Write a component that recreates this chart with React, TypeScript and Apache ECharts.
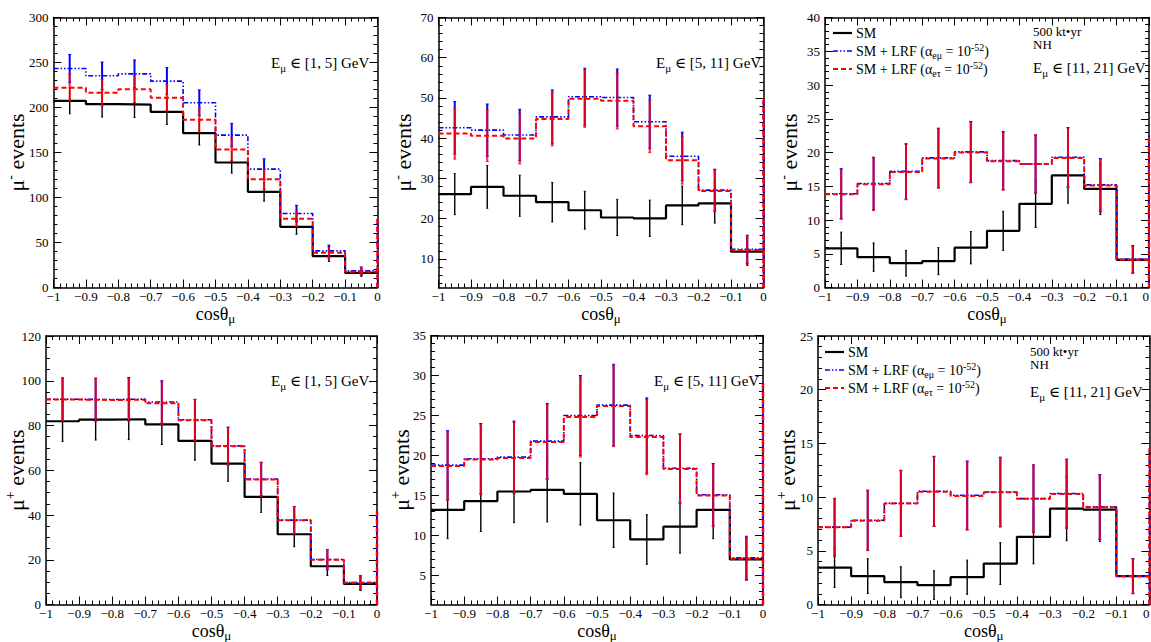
import React, { useEffect, useRef } from 'react';
import * as echarts from 'echarts';

const FONT = "'Liberation Serif', 'Times New Roman', 'DejaVu Serif', serif";

// ---- common binning ----
const BIN_EDGES = [-1, -0.9, -0.8, -0.7, -0.6, -0.5, -0.4, -0.3, -0.2, -0.1, 0];
const BIN_CENTERS = [-0.95, -0.85, -0.75, -0.65, -0.55, -0.45, -0.35, -0.25, -0.15, -0.05];
const X_TICKS = [-1, -0.9, -0.8, -0.7, -0.6, -0.5, -0.4, -0.3, -0.2, -0.1, 0];
const X_TICK_LABELS = ['−1', '−0.9', '−0.8', '−0.7', '−0.6', '−0.5', '−0.4', '−0.3', '−0.2', '−0.1', '0'];

// ---- panel 1: mu-, E in [1,5] ----
const P1_SM = [207.4, 203.7, 203.3, 195.2, 171.5, 138.9, 106.3, 67.4, 34.8, 16.3];
const P1_SM_ERR = [14.4, 14.3, 14.3, 14.0, 13.1, 11.8, 10.3, 8.2, 5.9, 4.0];
const P1_EMU = [243.3, 235.2, 237.4, 229.3, 205.2, 169.3, 131.5, 82.2, 40.7, 18.5];
const P1_EMU_ERR = [15.6, 15.3, 15.4, 15.1, 14.3, 13.0, 11.5, 9.1, 6.4, 4.3];
const P1_ETAU = [221.9, 216.3, 220.4, 210.7, 186.3, 153.3, 120.4, 76.3, 38.5, 17.4];
const P1_ETAU_ERR = [14.9, 14.7, 14.9, 14.5, 13.7, 12.4, 11.0, 8.7, 6.2, 4.2];
const P1_EDGE = 76;
const P1_Y_TICKS = [0, 50, 100, 150, 200, 250, 300];
const P1_Y_LABELS = ['0', '50', '100', '150', '200', '250', '300'];

// ---- panel 2: mu-, E in [5,11] ----
const P2_SM = [26.1, 27.9, 25.7, 24.1, 22.1, 20.3, 20.1, 23.3, 23.8, 11.8];
const P2_SM_ERR = [5.1, 5.3, 5.1, 4.9, 4.7, 4.5, 4.5, 4.8, 4.9, 3.4];
const P2_EMU = [42.6, 42.0, 40.8, 45.3, 50.3, 50.1, 44.1, 35.5, 27.1, 12.4];
const P2_EMU_ERR = [6.5, 6.5, 6.4, 6.7, 7.1, 7.1, 6.6, 6.0, 5.2, 3.5];
const P2_ETAU = [41.2, 40.6, 39.9, 44.8, 49.8, 49.3, 43.0, 34.5, 26.9, 12.2];
const P2_ETAU_ERR = [6.4, 6.4, 6.3, 6.7, 7.1, 7.0, 6.6, 5.9, 5.2, 3.5];
const P2_EDGE = 49.5;
const P2_Y_TICKS = [10, 20, 30, 40, 50, 60, 70];
const P2_Y_LABELS = ['10', '20', '30', '40', '50', '60', '70'];

// ---- panel 3: mu-, E in [11,21] ----
const P3_SM = [5.8, 4.5, 3.6, 3.9, 5.9, 8.4, 12.4, 16.6, 14.6, 4.1];
const P3_SM_ERR = [2.4, 2.1, 1.9, 2.0, 2.4, 2.9, 3.5, 4.1, 3.8, 2.0];
const P3_EMU = [13.9, 15.4, 17.2, 19.2, 20.1, 18.8, 18.3, 19.3, 15.2, 4.2];
const P3_EMU_ERR = [3.7, 3.9, 4.1, 4.4, 4.5, 4.3, 4.3, 4.4, 3.9, 2.0];
const P3_ETAU = [13.8, 15.3, 17.1, 19.1, 20.0, 18.7, 18.3, 19.2, 15.1, 4.1];
const P3_ETAU_ERR = [3.7, 3.9, 4.1, 4.4, 4.5, 4.3, 4.3, 4.4, 3.9, 2.0];
const P3_EDGE = 22.6;
const P3_Y_TICKS = [0, 5, 10, 15, 20, 25, 30, 35, 40];
const P3_Y_LABELS = ['0', '5', '10', '15', '20', '25', '30', '35', '40'];

// ---- panel 4: mu+, E in [1,5] ----
const P4_SM = [81.9, 82.6, 82.8, 80.5, 73.1, 63.0, 48.1, 31.4, 17.1, 9.2];
const P4_SM_ERR = [9.0, 9.1, 9.1, 9.0, 8.6, 7.9, 6.9, 5.6, 4.1, 3.0];
const P4_EMU = [91.7, 91.6, 91.8, 90.5, 82.6, 70.9, 56.1, 37.7, 20.1, 9.8];
const P4_EMU_ERR = [9.6, 9.6, 9.6, 9.5, 9.1, 8.4, 7.5, 6.1, 4.5, 3.1];
const P4_ETAU = [91.6, 91.4, 91.5, 89.9, 82.4, 70.7, 55.9, 37.6, 20.0, 9.7];
const P4_ETAU_ERR = [9.6, 9.6, 9.6, 9.5, 9.1, 8.4, 7.5, 6.1, 4.5, 3.1];
const P4_EDGE = 42;
const P4_Y_TICKS = [0, 20, 40, 60, 80, 100, 120];
const P4_Y_LABELS = ['0', '20', '40', '60', '80', '100', '120'];

// ---- panel 5: mu+, E in [5,11] ----
const P5_SM = [13.2, 14.3, 15.5, 15.7, 15.2, 11.9, 9.5, 11.1, 13.2, 7.0];
const P5_SM_ERR = [3.6, 3.8, 3.9, 4.0, 3.9, 3.4, 3.1, 3.3, 3.6, 2.6];
const P5_EMU = [18.8, 19.6, 19.8, 21.8, 25.0, 26.3, 22.5, 18.4, 15.1, 7.2];
const P5_EMU_ERR = [4.3, 4.4, 4.5, 4.7, 5.0, 5.1, 4.7, 4.3, 3.9, 2.7];
const P5_ETAU = [18.7, 19.5, 19.7, 21.7, 24.8, 26.2, 22.3, 18.3, 15.0, 7.1];
const P5_ETAU_ERR = [4.3, 4.4, 4.4, 4.7, 5.0, 5.1, 4.7, 4.3, 3.9, 2.7];
const P5_EDGE = 29.3;
const P5_Y_TICKS = [5, 10, 15, 20, 25, 30, 35];
const P5_Y_LABELS = ['5', '10', '15', '20', '25', '30', '35'];

// ---- panel 6: mu+, E in [11,21] ----
const P6_SM = [3.44, 2.64, 2.08, 1.8, 2.54, 3.81, 6.3, 8.93, 8.84, 2.64];
const P6_SM_ERR = [1.85, 1.62, 1.44, 1.34, 1.59, 1.95, 2.51, 2.99, 2.97, 1.62];
const P6_EMU = [7.2, 7.85, 9.43, 10.55, 10.17, 10.48, 9.86, 10.33, 9.09, 2.64];
const P6_EMU_ERR = [2.68, 2.8, 3.07, 3.25, 3.19, 3.24, 3.14, 3.21, 3.01, 1.62];
const P6_ETAU = [7.2, 7.8, 9.4, 10.5, 10.1, 10.45, 9.85, 10.3, 9.05, 2.62];
const P6_ETAU_ERR = [2.68, 2.79, 3.07, 3.24, 3.18, 3.23, 3.14, 3.21, 3.01, 1.62];
const P6_EDGE = 14.5;
const P6_Y_TICKS = [0, 5, 10, 15, 20, 25];
const P6_Y_LABELS = ['0', '5', '10', '15', '20', '25'];

const LEGEND_KEYS = ['SM', 'EMU', 'ETAU'];
const LEGEND_LABELS = [
  '{n|SM}',
  '{n|SM + LRF (α}{sub|eμ}{n| = 10}{sup|-52}{n|)}',
  '{n|SM + LRF (α}{sub|eτ}{n| = 10}{sup|-52}{n|)}',
];

type Panel = {
  sm: number[]; smErr: number[]; emu: number[]; emuErr: number[]; etau: number[]; etauErr: number[];
  edge: number; yMin: number; yMax: number; yTicks: number[]; yLabels: string[]; yMinor: number;
  yName: string; yNameGap: number; energy: string; grid: { left: number; top: number; width: number; height: number };
  ann: { x: number; y: number }; extra?: { x: number; y1: number; y2: number };
  legend?: { x: number; y: number }; rightEdge?: boolean;
};

const PANELS: Panel[] = [
  { sm: P1_SM, smErr: P1_SM_ERR, emu: P1_EMU, emuErr: P1_EMU_ERR, etau: P1_ETAU, etauErr: P1_ETAU_ERR,
    edge: P1_EDGE, yMin: 0, yMax: 300, yTicks: P1_Y_TICKS, yLabels: P1_Y_LABELS, yMinor: 10,
    yName: '-', yNameGap: 24.5, energy: '[1, 5] GeV', grid: { left: 53.5, top: 17.5, width: 324, height: 270 },
    ann: { x: 271, y: 63 } },
  { sm: P2_SM, smErr: P2_SM_ERR, emu: P2_EMU, emuErr: P2_EMU_ERR, etau: P2_ETAU, etauErr: P2_ETAU_ERR,
    edge: P2_EDGE, yMin: 2.9, yMax: 70, yTicks: P2_Y_TICKS, yLabels: P2_Y_LABELS, yMinor: 2,
    yName: '-', yNameGap: 22, energy: '[5, 11] GeV', grid: { left: 438.5, top: 17.5, width: 325, height: 270 },
    ann: { x: 656, y: 63 } },
  { sm: P3_SM, smErr: P3_SM_ERR, emu: P3_EMU, emuErr: P3_EMU_ERR, etau: P3_ETAU, etauErr: P3_ETAU_ERR,
    edge: P3_EDGE, yMin: 0, yMax: 40, yTicks: P3_Y_TICKS, yLabels: P3_Y_LABELS, yMinor: 1,
    yName: '-', yNameGap: 23, energy: '[11, 21] GeV', grid: { left: 825, top: 17.5, width: 324, height: 270 },
    ann: { x: 1033, y: 68 }, extra: { x: 1033, y1: 31, y2: 44 }, legend: { x: 833, y: 33 }, rightEdge: true },
  { sm: P4_SM, smErr: P4_SM_ERR, emu: P4_EMU, emuErr: P4_EMU_ERR, etau: P4_ETAU, etauErr: P4_ETAU_ERR,
    edge: P4_EDGE, yMin: 0, yMax: 120, yTicks: P4_Y_TICKS, yLabels: P4_Y_LABELS, yMinor: 5,
    yName: '+', yNameGap: 17, energy: '[1, 5] GeV', grid: { left: 46, top: 336, width: 331, height: 268.5 },
    ann: { x: 271, y: 381 } },
  { sm: P5_SM, smErr: P5_SM_ERR, emu: P5_EMU, emuErr: P5_EMU_ERR, etau: P5_ETAU, etauErr: P5_ETAU_ERR,
    edge: P5_EDGE, yMin: 1.37, yMax: 35, yTicks: P5_Y_TICKS, yLabels: P5_Y_LABELS, yMinor: 1,
    yName: '+', yNameGap: 17, energy: '[5, 11] GeV', grid: { left: 431, top: 335.5, width: 332, height: 269 },
    ann: { x: 654, y: 381 } },
  { sm: P6_SM, smErr: P6_SM_ERR, emu: P6_EMU, emuErr: P6_EMU_ERR, etau: P6_ETAU, etauErr: P6_ETAU_ERR,
    edge: P6_EDGE, yMin: 0, yMax: 25, yTicks: P6_Y_TICKS, yLabels: P6_Y_LABELS, yMinor: 1,
    yName: '+', yNameGap: 17.5, energy: '[11, 21] GeV', grid: { left: 818, top: 336, width: 331.5, height: 268.5 },
    ann: { x: 1030, y: 392 }, extra: { x: 1030, y1: 351, y2: 364 }, legend: { x: 825, y: 352 }, rightEdge: true },
];

const BLACK = '#000000';
const BLUE = '#0000ff';
const RED = '#ff0000';
const BLUE_DASH = [5, 2, 1.5, 2, 1.5, 2];
const RED_DASH = [5, 3];

function stepsFrom(min: number, max: number, step: number): number[] {
  const out: number[] = [];
  const start = Math.ceil(min / step - 1e-9);
  for (let k = start; k * step <= max + 1e-9; k++) out.push(Math.round(k * step * 1e6) / 1e6);
  return out;
}

const X_MINOR = stepsFrom(-1, 0, 0.02);

function labelFor(ticks: number[], labels: string[]) {
  return (v: number) => {
    const i = ticks.findIndex((t) => Math.abs(t - v) < 1e-6);
    return i >= 0 ? labels[i] : '';
  };
}

const LEGEND_STYLES: Record<string, any> = {
  SM: { stroke: BLACK, lineWidth: 2.2 },
  EMU: { stroke: BLUE, lineWidth: 1.6, lineDash: BLUE_DASH },
  ETAU: { stroke: RED, lineWidth: 2, lineDash: RED_DASH },
};

function buildOption() {
  const grid: any[] = [];
  const xAxis: any[] = [];
  const yAxis: any[] = [];
  const series: any[] = [];
  const graphic: any[] = [];

  PANELS.forEach((p, gi) => {
    grid.push({ ...p.grid, containLabel: false, outerBoundsMode: 'none', show: false });
    const xBase = { type: 'value', gridIndex: gi, min: -1, max: 0, splitLine: { show: false }, silent: true, nameMoveOverlap: false };
    const line = { show: true, onZero: false, lineStyle: { color: BLACK, width: 1.5 } };
    const noLine = { show: false, onZero: false };
    const tickMajor = (vals: number[]) => ({ show: true, inside: true, length: 8, customValues: vals, lineStyle: { color: BLACK, width: 1 } });
    const tickMinor = (vals: number[]) => ({ show: true, inside: true, length: 4, customValues: vals, lineStyle: { color: BLACK, width: 1 } });
    const xLabel: any = { show: true, customValues: X_TICKS, formatter: labelFor(X_TICKS, X_TICK_LABELS), margin: 3,
      color: BLACK, fontFamily: FONT, fontSize: 13, lineHeight: 12 };
    if (p.rightEdge) xLabel.alignMaxLabel = 'right';
    xAxis.push(
      { ...xBase, position: 'bottom', axisLine: line, axisTick: tickMajor(X_TICKS), axisLabel: xLabel,
        name: 'cosθ{sub|μ}', nameLocation: 'middle', nameGap: 15,
        nameTextStyle: { fontFamily: FONT, fontSize: 18, lineHeight: 22, color: BLACK,
          rich: { sub: { fontFamily: FONT, fontSize: 13, lineHeight: 9, verticalAlign: 'bottom', color: BLACK } } } },
      { ...xBase, position: 'bottom', axisLine: noLine, axisTick: tickMinor(X_MINOR), axisLabel: { show: false } },
      { ...xBase, position: 'top', axisLine: line, axisTick: tickMajor(X_TICKS), axisLabel: { show: false } },
      { ...xBase, position: 'top', axisLine: noLine, axisTick: tickMinor(X_MINOR), axisLabel: { show: false } },
    );
    const yBase = { type: 'value', gridIndex: gi, min: p.yMin, max: p.yMax, splitLine: { show: false }, silent: true, nameMoveOverlap: false };
    const yMinorVals = stepsFrom(p.yMin, p.yMax, p.yMinor);
    yAxis.push(
      { ...yBase, position: 'left', axisLine: line, axisTick: tickMajor(p.yTicks),
        axisLabel: { show: true, customValues: p.yTicks, formatter: labelFor(p.yTicks, p.yLabels), margin: 5,
          color: BLACK, fontFamily: FONT, fontSize: 13, lineHeight: 10 },
        name: 'μ{sup|' + p.yName + '} events', nameLocation: 'middle', nameRotate: 90, nameGap: p.yNameGap,
        nameTextStyle: { fontFamily: FONT, fontSize: 22, lineHeight: 26, color: BLACK,
          rich: { sup: { fontFamily: FONT, fontSize: 14, lineHeight: 10, verticalAlign: 'top', color: BLACK } } } },
      { ...yBase, position: 'left', axisLine: noLine, axisTick: tickMinor(yMinorVals), axisLabel: { show: false } },
      { ...yBase, position: 'right', axisLine: line, axisTick: tickMajor(p.yTicks), axisLabel: { show: false } },
      { ...yBase, position: 'right', axisLine: noLine, axisTick: tickMinor(yMinorVals), axisLabel: { show: false } },
    );
    const xi = gi * 4;
    const yi = gi * 4;
    const stepData = (v: number[]) => BIN_EDGES.map((x, i) => [x, v[Math.min(i, v.length - 1)]]);
    const errData = (v: number[], e: number[]) => BIN_CENTERS.map((c, i) => [c, v[i] - e[i], v[i] + e[i]]);
    const errSeries = (name: string, v: number[], e: number[], color: string, width: number, cap: number, opacity: number, z: number) => ({
      type: 'custom', name, xAxisIndex: xi, yAxisIndex: yi, silent: true, z,
      data: errData(v, e),
      renderItem: (_params: any, api: any) => {
        const x = api.value(0);
        const lo = api.coord([x, api.value(1)]);
        const hi = api.coord([x, api.value(2)]);
        const style = { stroke: color, lineWidth: width, opacity };
        const children: any[] = [
          { type: 'line', shape: { x1: lo[0], y1: lo[1], x2: hi[0], y2: hi[1] }, style },
        ];
        if (cap > 0) {
          children.push(
            { type: 'line', shape: { x1: lo[0] - cap, y1: lo[1], x2: lo[0] + cap, y2: lo[1] }, style: { ...style, lineWidth: 1 } },
            { type: 'line', shape: { x1: hi[0] - cap, y1: hi[1], x2: hi[0] + cap, y2: hi[1] }, style: { ...style, lineWidth: 1 } },
          );
        }
        return { type: 'group', children };
      },
    });
    series.push(
      { type: 'line', name: 'SM', xAxisIndex: xi, yAxisIndex: yi, step: 'end', symbol: 'none', showSymbol: false,
        data: stepData(p.sm), lineStyle: { color: BLACK, width: 2.2 }, itemStyle: { color: BLACK }, z: 2, silent: true },
      errSeries('SM err', p.sm, p.smErr, BLACK, 1.4, 1, 1, 3),
      { type: 'line', name: 'SM + LRF (αeμ = 10^-52)', xAxisIndex: xi, yAxisIndex: yi, step: 'end', symbol: 'none', showSymbol: false,
        data: stepData(p.emu), lineStyle: { color: BLUE, width: 1.6, type: BLUE_DASH }, itemStyle: { color: BLUE }, z: 4, silent: true },
      errSeries('EMU err', p.emu, p.emuErr, BLUE, 2, 1.5, 1, 5),
      { type: 'line', name: 'EMU edge', xAxisIndex: xi, yAxisIndex: yi, symbol: 'none', showSymbol: false,
        data: [[0, p.yMin], [0, p.edge]], lineStyle: { color: BLUE, width: 2, type: BLUE_DASH }, z: 6, silent: true },
      { type: 'line', name: 'SM + LRF (αeτ = 10^-52)', xAxisIndex: xi, yAxisIndex: yi, step: 'end', symbol: 'none', showSymbol: false,
        data: stepData(p.etau), lineStyle: { color: RED, width: 2, type: RED_DASH }, itemStyle: { color: RED }, z: 7, silent: true },
      errSeries('ETAU err', p.etau, p.etauErr, RED, 2, 1.5, 0.85, 8),
      { type: 'line', name: 'ETAU edge', xAxisIndex: xi, yAxisIndex: yi, symbol: 'none', showSymbol: false,
        data: [[0, p.yMin], [0, p.edge]], lineStyle: { color: RED, width: 2.5, type: RED_DASH }, z: 9, silent: true },
    );

    const rich = {
      n: { fontFamily: FONT, fontSize: 15, lineHeight: 20, color: BLACK },
      sub: { fontFamily: FONT, fontSize: 11, lineHeight: 9, verticalAlign: 'bottom', color: BLACK },
      sup: { fontFamily: FONT, fontSize: 10, lineHeight: 8, verticalAlign: 'top', color: BLACK },
    };
    graphic.push({
      type: 'text', x: p.ann.x, y: p.ann.y, silent: true, z: 100,
      style: { fontFamily: FONT, fontSize: 15, fill: BLACK, text: '{n|E}{sub|μ}{n| ∈ ' + p.energy + '}', rich, verticalAlign: 'middle', align: 'left' },
    });
    if (p.extra) {
      graphic.push(
        { type: 'text', x: p.extra.x, y: p.extra.y1, silent: true, z: 100,
          style: { fontFamily: FONT, fontSize: 13, lineHeight: 12, fill: BLACK, text: '500 kt•yr', verticalAlign: 'middle', align: 'left' } },
        { type: 'text', x: p.extra.x, y: p.extra.y2, silent: true, z: 100,
          style: { fontFamily: FONT, fontSize: 13, lineHeight: 12, fill: BLACK, text: 'NH', verticalAlign: 'middle', align: 'left' } },
      );
    }
    if (p.legend) {
      const lg = p.legend;
      const legRich = {
        n: { fontFamily: FONT, fontSize: 14, lineHeight: 18, color: BLACK },
        sub: { fontFamily: FONT, fontSize: 10, lineHeight: 8, verticalAlign: 'bottom', color: BLACK },
        sup: { fontFamily: FONT, fontSize: 10, lineHeight: 8, verticalAlign: 'top', color: BLACK },
      };
      LEGEND_KEYS.forEach((k, i) => {
        const y = lg.y + i * 18;
        graphic.push(
          { type: 'line', silent: true, z: 100, shape: { x1: lg.x, y1: y, x2: lg.x + 19, y2: y }, style: { ...LEGEND_STYLES[k], fill: null } },
          { type: 'text', silent: true, z: 100, x: lg.x + 23, y,
            style: { fontFamily: FONT, fontSize: 14, fill: BLACK, text: LEGEND_LABELS[i], rich: legRich, verticalAlign: 'middle', align: 'left' } },
        );
      });
    }
  });

  return {
    animation: false,
    backgroundColor: '#ffffff',
    grid, xAxis, yAxis, series, graphic,
  };
}

export default function App() {
  const ref = useRef<HTMLDivElement>(null);
  useEffect(() => {
    if (!ref.current) return;
    const chart = echarts.init(ref.current, undefined, { renderer: 'svg' });
    chart.setOption(buildOption() as any);
    return () => chart.dispose();
  }, []);
  return (
    <div ref={ref} style={{ position: 'fixed', left: 0, top: 0, width: 1151, height: 642, background: '#fff' }} />
  );
}
